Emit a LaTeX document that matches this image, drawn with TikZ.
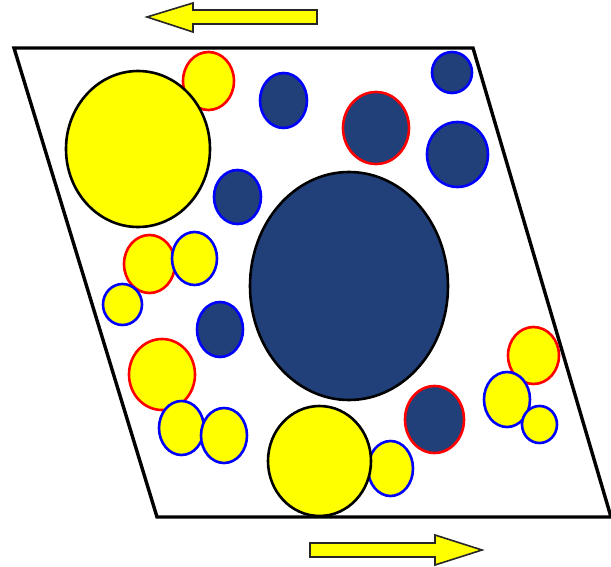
\documentclass[tikz,border=0pt]{standalone}
\usepackage{xcolor}
\usepackage{tikz}
\usetikzlibrary{arrows.meta, positioning}
\definecolor{navy}{RGB}{33,64,121}
\definecolor{grainyel}{RGB}{255,255,0}
\definecolor{rimblue}{RGB}{0,0,255}
\definecolor{rimred}{RGB}{255,0,0}

\begin{document}
\begin{tikzpicture}[
  x=1pt, y=-1pt,
  cell/.style={draw=black, line width=3.4pt, line join=miter},
  grain/.style={fill=grainyel, draw=#1, line width=2.6pt},
  pore/.style={fill=navy, draw=#1, line width=2.6pt},
  push/.style={fill=grainyel, draw=black!85, line width=1.6pt, line join=miter},
]
  \useasboundingbox (0,0) rectangle (611,567);

  % --- shear arrows -----------------------------------------------
  \draw[push] (317,10) -- (193,10) -- (193,3) -- (147,17) -- (193,32)
    -- (193,24) -- (317,24) -- cycle;
  \draw[push] (310,543) -- (435,543) -- (435,535) -- (482,550) -- (435,565)
    -- (435,557) -- (310,557) -- cycle;

  % --- sheared cell ------------------------------------------------
  \draw[cell] (14,48) -- (473,48) -- (611,517) -- (157,517) -- cycle;

  % --- small grains and pores --------------------------------------
  \draw[grain=rimred]  (208.5,81)   ellipse [x radius=25.5, y radius=29];
  \draw[pore=rimblue]  (283.5,100.5) ellipse [x radius=23.5, y radius=27.5];
  \draw[pore=rimblue]  (237.5,197)  ellipse [x radius=23.5, y radius=27];
  \draw[grain=rimred]  (149.5,264)  ellipse [x radius=25.5, y radius=29];
  \draw[grain=rimblue] (194.5,258.5) ellipse [x radius=22.5, y radius=26.5];
  \draw[grain=rimblue] (122.5,304.5) ellipse [x radius=19.5, y radius=20.5];
  \draw[pore=rimblue]  (220,329.5)  ellipse [x radius=23, y radius=27.5];
  \draw[grain=rimred]  (162,374.5)  ellipse [x radius=33, y radius=35.5];
  \draw[grain=rimblue] (181.5,428)  ellipse [x radius=22.5, y radius=27];
  \draw[grain=rimblue] (224,435.5)  ellipse [x radius=23, y radius=27.5];
  \draw[grain=rimblue] (390.5,468.5) ellipse [x radius=22.5, y radius=27.5];
  \draw[pore=rimred]   (434.5,419.5) ellipse [x radius=29.5, y radius=33.5];
  \draw[grain=rimred]  (533.5,355.5) ellipse [x radius=25.5, y radius=28.5];
  \draw[grain=rimblue] (507,399.5)  ellipse [x radius=23, y radius=27.5];
  \draw[grain=rimblue] (539.5,424.5) ellipse [x radius=17.5, y radius=18.5];
  \draw[pore=rimred]   (376,128)    ellipse [x radius=33, y radius=36];
  \draw[pore=rimblue]  (452,72.5)   ellipse [x radius=20, y radius=20.5];
  \draw[pore=rimblue]  (457.5,154.5) ellipse [x radius=30.5, y radius=32.5];

  % --- large grains and pore ---------------------------------------
  \draw[grain=black] (138,149)  ellipse [x radius=72, y radius=78];
  \draw[grain=black] (319.5,461) ellipse [x radius=51.5, y radius=55];
  \draw[pore=black]  (349,286)  ellipse [x radius=99, y radius=114];
\end{tikzpicture}
\end{document}
